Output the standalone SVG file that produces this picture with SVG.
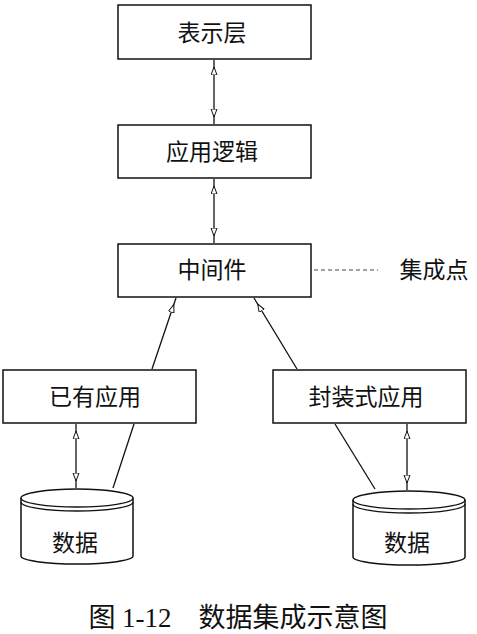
<svg xmlns="http://www.w3.org/2000/svg" width="477" height="634" viewBox="0 0 477 634">
<style>
.box{fill:#fff;stroke:#111;stroke-width:1.5}
.lbl{font-family:"Liberation Serif","Noto Sans CJK SC",serif;font-size:23px;fill:#111;text-anchor:middle;dominant-baseline:central}
.ln{stroke:#111;stroke-width:1.3;fill:none}
.cyl{fill:#fff;stroke:#111;stroke-width:1.5}
</style>
<defs>
<marker id="ah" markerUnits="userSpaceOnUse" markerWidth="20" markerHeight="10" viewBox="0 0 20 10" refX="15" refY="3.5" orient="auto-start-reverse">
<path d="M0,0.5 L8,3.5 L0,6.5 z" fill="#fff" stroke="#111" stroke-width="1"/>
</marker>
</defs>
<rect width="477" height="634" fill="#fff"/>
<g id="connectors">
<line class="ln" x1="214" y1="60" x2="214" y2="124" marker-start="url(#ah)" marker-end="url(#ah)"/>
<line class="ln" x1="214" y1="179" x2="214" y2="243" marker-start="url(#ah)" marker-end="url(#ah)"/>
<line class="ln" x1="152" y1="369" x2="176" y2="298" marker-end="url(#ah)"/>
<line class="ln" x1="297" y1="369" x2="254" y2="298" marker-end="url(#ah)"/>
<line class="ln" x1="134" y1="424" x2="113" y2="488"/>
<line class="ln" x1="76" y1="424" x2="76" y2="488" marker-start="url(#ah)" marker-end="url(#ah)"/>
<line class="ln" x1="335" y1="424" x2="375" y2="489"/>
<line class="ln" x1="407" y1="424" x2="407" y2="490" marker-start="url(#ah)" marker-end="url(#ah)"/>
<line x1="314" y1="270" x2="378" y2="270" stroke="#444" stroke-width="1" stroke-dasharray="4,3"/>
</g>
<g id="presentation"><rect class="box" x="118" y="5" width="193" height="54"/><text class="lbl" x="212" y="33">表示层</text></g>
<g id="applogic"><rect class="box" x="118" y="125" width="193" height="53"/><text class="lbl" x="212" y="152">应用逻辑</text></g>
<g id="middleware"><rect class="box" x="118" y="244" width="193" height="53"/><text class="lbl" x="212" y="270">中间件</text></g>
<g id="integration-point"><text class="lbl" x="434" y="270">集成点</text></g>
<g id="existing-app"><rect class="box" x="3" y="370" width="193" height="53"/><text class="lbl" x="95" y="397">已有应用</text></g>
<g id="wrapped-app"><rect class="box" x="273" y="370" width="193" height="53"/><text class="lbl" x="366" y="397">封装式应用</text></g>
<g id="data-left">
<path class="cyl" d="M21,498 A56,9 0 0 1 133,498 L133,556 A56,8 0 0 1 21,556 Z"/>
<path class="ln" d="M21,498 A56,9 0 0 0 133,498"/>
<path class="ln" d="M21,502 A56,9 0 0 0 133,502"/>
<text class="lbl" x="75" y="543">数据</text>
</g>
<g id="data-right">
<path class="cyl" d="M353,500 A56,9 0 0 1 465,500 L465,557 A56,8 0 0 1 353,557 Z"/>
<path class="ln" d="M353,500 A56,9 0 0 0 465,500"/>
<path class="ln" d="M353,504 A56,9 0 0 0 465,504"/>
<text class="lbl" x="407" y="543">数据</text>
</g>
<g id="caption">
<text x="238" y="618" font-family="Liberation Serif,'Noto Sans CJK SC',serif" font-size="27" fill="#111" text-anchor="middle" dominant-baseline="central" xml:space="preserve">图 1-12    数据集成示意图</text>
</g>
</svg>
